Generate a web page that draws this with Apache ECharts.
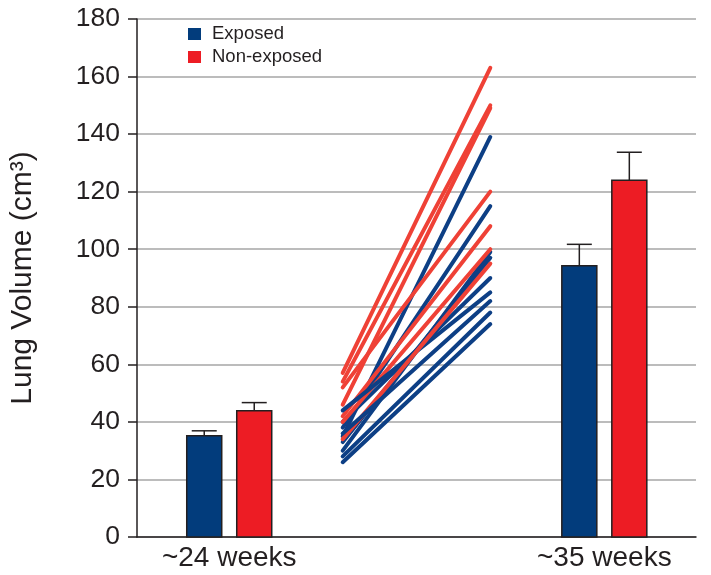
<!DOCTYPE html>
<html>
<head>
<meta charset="utf-8">
<script src="https://cdn.jsdelivr.net/npm/echarts@6/dist/echarts.min.js"></script>
<style>
  html, body { margin: 0; padding: 0; background: #fff; }
  #myChart { width: 711px; height: 575px; }
</style>
</head>
<body>
<div id="myChart"></div>
<script>
// 组别和时间点
const timePoints = ['~24 weeks', '~35 weeks'];
const exposedMean = [35.2, 94.3];
const exposedSE = [1.7, 7.4];
const nonExposedMean = [43.9, 124.0];
const nonExposedSE = [2.8, 9.7];
// 个体配对数据 [24周, 35周]
const exposedPairs = [
  [35, 139], [38, 115], [30, 99], [33, 97], [40, 90],
  [44, 85], [36, 82], [28, 78], [26, 74]
];
const nonExposedPairs = [
  [57, 163], [54, 150], [46, 149], [52, 120], [42, 108],
  [40, 100], [34, 95]
];
const yTicks = [0, 20, 40, 60, 80, 100, 120, 140, 160, 180];

// 横轴位置（布局）
const groupX = [16.5, 83.6];
const pairX = [36.8, 63.2];

const BLUE = '#023c7c';
const RED = '#ed1c24';
const LINE_BLUE = '#0d3f85';
const LINE_RED = '#ef4136';
const INK = '#231f20';

function barSeries(name, means, ses, color, offset) {
  return {
    name: name,
    type: 'custom',
    itemStyle: { color: color },
    z: 3,
    data: means.map((m, i) => [groupX[i], m, m + ses[i]]),
    renderItem: function (params, api) {
      let base = api.coord([api.value(0), 0]);
      let top = api.coord([api.value(0), api.value(1)]);
      let err = api.coord([api.value(0), api.value(2)]);
      let cx = base[0] + offset;
      let w = 35;
      return {
        type: 'group',
        children: [
          {
            type: 'line',
            shape: { x1: cx, y1: top[1], x2: cx, y2: err[1] },
            style: { stroke: INK, lineWidth: 1.5 }
          },
          {
            type: 'line',
            shape: { x1: cx - 12.5, y1: err[1], x2: cx + 12.5, y2: err[1] },
            style: { stroke: INK, lineWidth: 1.5 }
          },
          {
            type: 'rect',
            shape: { x: cx - w / 2, y: top[1], width: w, height: base[1] - top[1] },
            style: { fill: color, stroke: INK, lineWidth: 1.5 }
          }
        ]
      };
    }
  };
}

function pairSeries(pairs, color, label) {
  return pairs.map((p, i) => ({
    name: label + ' ' + (i + 1),
    type: 'line',
    symbol: 'none',
    z: 2,
    lineStyle: { color: color, width: 4, cap: 'round' },
    data: [[pairX[0], p[0]], [pairX[1], p[1]]]
  }));
}

let series = [
  barSeries('Exposed', exposedMean, exposedSE, BLUE, -25),
  barSeries('Non-exposed', nonExposedMean, nonExposedSE, RED, 25)
];
// 红蓝交替绘制
let redLines = pairSeries(nonExposedPairs, LINE_RED, 'Non-exposed subject');
let blueLines = pairSeries(exposedPairs, LINE_BLUE, 'Exposed subject');
for (let k = 0; k < Math.max(redLines.length, blueLines.length); k++) {
  if (redLines[k]) series.push(redLines[k]);
  if (blueLines[k]) series.push(blueLines[k]);
}

let myChart = echarts.init(document.getElementById('myChart'));
myChart.setOption({
  animation: false,
  textStyle: { fontFamily: 'Liberation Sans, Arial, sans-serif' },
  grid: { left: 136, right: 15, top: 19, bottom: 38 },
  legend: {
    orient: 'vertical',
    left: 188,
    top: 24,
    padding: 0,
    itemGap: 3,
    icon: 'rect',
    itemWidth: 13,
    itemHeight: 12,
    textStyle: { fontSize: 18.5, lineHeight: 20, color: INK, padding: [0, 0, 0, 6] },
    data: [
      { name: 'Exposed', itemStyle: { color: BLUE, borderWidth: 0 } },
      { name: 'Non-exposed', itemStyle: { color: RED, borderWidth: 0 } }
    ]
  },
  xAxis: {
    type: 'value',
    min: 0,
    max: 100,
    splitLine: { show: false },
    axisLine: { show: true, lineStyle: { color: INK, width: 1.5 } },
    axisTick: { show: false },
    axisLabel: {
      customValues: groupX,
      fontSize: 28,
      color: INK,
      margin: 7,
      formatter: function (v) {
        let i = groupX.indexOf(v);
        return i >= 0 ? timePoints[i] : '';
      }
    }
  },
  yAxis: {
    type: 'value',
    min: yTicks[0],
    max: yTicks[yTicks.length - 1],
    interval: 20,
    name: 'Lung Volume (cm³)',
    nameLocation: 'middle',
    nameGap: 99,
    nameTextStyle: { fontSize: 30, color: INK },
    axisLine: { show: true, lineStyle: { color: INK, width: 1.5 } },
    axisTick: { show: true, length: 9, lineStyle: { color: INK, width: 1.5 } },
    axisLabel: { fontSize: 26.5, color: INK, margin: 17 },
    splitLine: { lineStyle: { color: '#a6a6a6', width: 1.5 } }
  },
  series: series
});
</script>
</body>
</html>
